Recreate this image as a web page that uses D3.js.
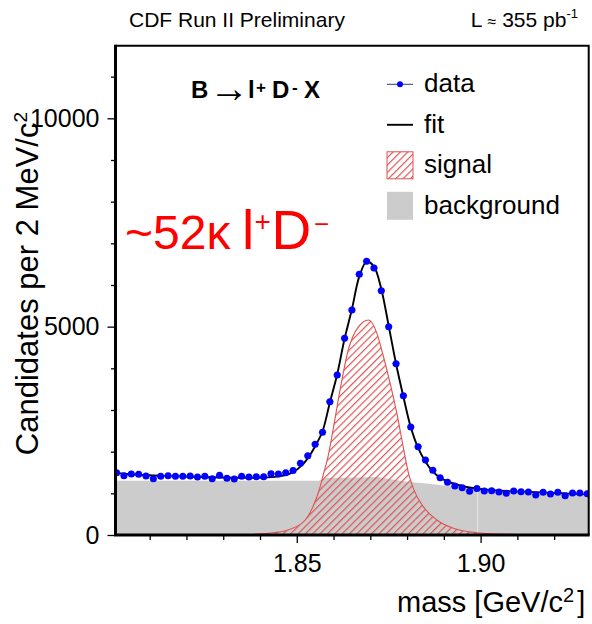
<!DOCTYPE html>
<html>
<head>
<meta charset="utf-8">
<script src="https://cdn.jsdelivr.net/npm/d3@7"></script>
<style>
  html, body { margin: 0; padding: 0; background: #fff; }
  svg { display: block; font-family: "Liberation Sans", Arial, Helvetica, sans-serif; }
</style>
</head>
<body>
<svg id="chart" width="592" height="624"></svg>
<script>
// D candidate mass histogram: 2 MeV/c^2 bins starting at 1.800 GeV/c^2
const binStart = 1.800;
const binWidth = 0.002;
const dataCounts = [
  1495, 1423, 1464, 1457, 1416, 1351, 1409, 1423, 1409, 1409,
  1416, 1392, 1409, 1351, 1433, 1361, 1344, 1409, 1392, 1399,
  1399, 1471, 1464, 1495, 1548, 1721, 1900, 2180, 2465, 3199,
  3840, 4721, 5400, 6257, 6569, 6408, 5863, 4999, 4111, 3343,
  2592, 2119, 1800, 1555, 1372, 1268, 1174, 1136, 1052, 1118,
  1056, 1063, 1032, 1001, 1056, 1039, 1032, 960, 1025, 984,
  1025, 943, 1008, 1008, 991
];
// total fit evaluated at the bin centres
const fitCounts = [
  1490, 1470, 1455, 1445, 1436, 1428, 1421, 1415, 1409, 1403,
  1398, 1393, 1389, 1385, 1381, 1378, 1375, 1373, 1372, 1373,
  1378, 1388, 1408, 1440, 1505, 1640, 1840, 2130, 2490, 3180,
  3860, 4710, 5420, 6200, 6560, 6440, 5900, 5020, 4110, 3320,
  2590, 2090, 1760, 1525, 1370, 1290, 1225, 1175, 1140, 1115,
  1095, 1080, 1066, 1055, 1046, 1040, 1034, 1028, 1020, 1012,
  1005, 998, 990, 983, 976
];
// signal component
const signalMass = [
  1.8300, 1.8360, 1.8422, 1.8476, 1.8523, 1.8544, 1.8561, 1.8573, 1.8585,
  1.8597, 1.8621, 1.8640, 1.8668, 1.8695, 1.8718, 1.8731, 1.8754, 1.8774,
  1.8786, 1.8804, 1.8817, 1.8844, 1.8881, 1.8926, 1.8990, 1.9080, 1.9200
];
const signalCounts = [
  0, 10, 40, 120, 360, 680, 1080, 1480, 1880,
  2440, 3640, 4440, 5000, 5160, 4840, 4440, 3640, 2840,
  2280, 1480, 1120, 680, 360, 160, 55, 15, 0
];
// background component (two pieces joined at 1.8992)
const bkgMass = [
  1.8000, 1.8560, 1.8580, 1.8720, 1.8740, 1.8790, 1.8840, 1.8930,
  1.8992, 1.8992, 1.9150, 1.9300
];
const bkgCounts = [
  1303, 1303, 1370, 1390, 1360, 1290, 1250, 1160,
  1115, 1088, 1000, 945
];
const bkgSeam = 1.8992;

const xMajorTicks = [1.85, 1.90];
const xMinorTicks = [1.81, 1.82, 1.83, 1.84, 1.86, 1.87, 1.88, 1.89, 1.91, 1.92];
const yMajorTicks = [0, 5000, 10000];
const yMinorTicks = [1000, 2000, 3000, 4000, 6000, 7000, 8000, 9000, 11000];
const legendLabels = ["data", "fit", "signal", "background"];

// ---------------------------------------------------------------------------
const svg = d3.select("#chart");
const frame = { left: 115.5, right: 588.7, top: 45.7, bottom: 535 };

const x = d3.scaleLinear().domain([1.8007, 1.9294]).range([frame.left, frame.right]);
const y = d3.scaleLinear().domain([0, 11743]).range([frame.bottom, frame.top]);

const binCentres = dataCounts.map((_, i) => binStart + (i + 0.5) * binWidth);

const RED = "#e05050";
const defs = svg.append("defs");
defs.append("clipPath").attr("id", "plotClip")
  .append("rect")
  .attr("x", frame.left).attr("y", frame.top)
  .attr("width", frame.right - frame.left).attr("height", frame.bottom - frame.top);

const hatchGap = 5.2;
const hatch = defs.append("pattern")
  .attr("id", "hatch")
  .attr("patternUnits", "userSpaceOnUse")
  .attr("width", hatchGap).attr("height", hatchGap)
  .attr("patternTransform", "rotate(45)");
hatch.append("line")
  .attr("x1", 0.6).attr("y1", 0).attr("x2", 0.6).attr("y2", hatchGap)
  .attr("stroke", RED).attr("stroke-width", 1.15);

const plot = svg.append("g").attr("clip-path", "url(#plotClip)");

// background
const bkgPts = bkgMass.map((m, i) => [m, bkgCounts[i]]);
plot.append("path")
  .datum(bkgPts)
  .attr("fill", "#cccccc")
  .attr("d", d3.area().x(d => x(d[0])).y0(y(0)).y1(d => y(d[1])));
const seamTop = d3.min(bkgPts.filter(d => d[0] === bkgSeam), d => d[1]);
plot.append("line")
  .attr("x1", x(bkgSeam)).attr("x2", x(bkgSeam))
  .attr("y1", y(0)).attr("y2", y(seamTop))
  .attr("stroke", "#e6e6e6").attr("stroke-width", 1);

// signal
const sigPts = signalMass.map((m, i) => [m, signalCounts[i]]);
plot.append("path")
  .datum(sigPts)
  .attr("fill", "url(#hatch)")
  .attr("stroke", RED).attr("stroke-width", 1.1)
  .attr("d", d3.area().curve(d3.curveMonotoneX)
    .x(d => x(d[0])).y0(y(0)).y1(d => y(d[1])));

// fit
plot.append("path")
  .datum(binCentres.map((m, i) => [m, fitCounts[i]]))
  .attr("fill", "none")
  .attr("stroke", "#000").attr("stroke-width", 1.9)
  .attr("d", d3.line().curve(d3.curveCatmullRom.alpha(0.5))
    .x(d => x(d[0])).y(d => y(d[1])));

// data points with error bars
const pts = plot.append("g").selectAll("g")
  .data(binCentres.map((m, i) => ({ m, n: dataCounts[i] })))
  .join("g");
pts.append("line")
  .attr("x1", d => x(d.m - binWidth / 2)).attr("x2", d => x(d.m + binWidth / 2))
  .attr("y1", d => y(d.n)).attr("y2", d => y(d.n))
  .attr("stroke", "#4a5fc0").attr("stroke-width", 1);
pts.append("line")
  .attr("x1", d => x(d.m)).attr("x2", d => x(d.m))
  .attr("y1", d => y(d.n - Math.sqrt(d.n))).attr("y2", d => y(d.n + Math.sqrt(d.n)))
  .attr("stroke", "#4a5fc0").attr("stroke-width", 1);
pts.append("circle")
  .attr("cx", d => x(d.m)).attr("cy", d => y(d.n))
  .attr("r", 3.5).attr("fill", "#0000ff");

// axes
const tickStyle = g => {
  g.select(".domain").remove();
  g.selectAll("line").attr("stroke", "#000").attr("stroke-width", 1.3);
  g.selectAll("text").attr("fill", "#000").attr("font-size", 25)
    .attr("font-family", "Liberation Sans, Arial, sans-serif");
};
svg.append("g")
  .attr("transform", `translate(0,${frame.bottom + 1})`)
  .call(d3.axisBottom(x).tickValues(xMinorTicks).tickSize(4).tickFormat(""))
  .call(tickStyle);
svg.append("g")
  .attr("transform", `translate(0,${frame.bottom + 1})`)
  .call(d3.axisBottom(x).tickValues(xMajorTicks).tickSize(7).tickFormat(d3.format(".2f")))
  .call(tickStyle)
  .call(g => g.selectAll("text").attr("y", 36).attr("dy", 0));
svg.append("g")
  .attr("transform", `translate(${frame.left - 1},0)`)
  .call(d3.axisLeft(y).tickValues(yMinorTicks).tickSize(3.5).tickFormat(""))
  .call(tickStyle);
svg.append("g")
  .attr("transform", `translate(${frame.left - 1},0)`)
  .call(d3.axisLeft(y).tickValues(yMajorTicks).tickSize(7).tickFormat(d3.format("d")))
  .call(tickStyle)
  .call(g => g.selectAll("text").attr("x", -15).attr("dy", "0.33em"));

// frame
svg.append("path")
  .attr("d", `M${frame.left},${frame.top}H${frame.right}V${frame.bottom}`)
  .attr("fill", "none").attr("stroke", "#000").attr("stroke-width", 2);
svg.append("path")
  .attr("d", `M${frame.left},${frame.top - 1}V${frame.bottom}H${frame.right + 1}`)
  .attr("fill", "none").attr("stroke", "#000").attr("stroke-width", 3);

// axis titles
const xt = svg.append("text")
  .attr("x", 397).attr("y", 612)
  .attr("font-size", 29).attr("fill", "#000");
xt.append("tspan").text("mass [GeV/c");
xt.append("tspan").attr("font-size", 20).attr("dy", -10).text("2");
xt.append("tspan").attr("dy", 10).attr("dx", 3).text("]");

const yt = svg.append("text")
  .attr("transform", "translate(38,112) rotate(-90)")
  .attr("text-anchor", "end")
  .attr("font-size", 31).attr("fill", "#000");
yt.append("tspan").text("Candidates per 2 MeV/c");
yt.append("tspan").attr("font-size", 19).attr("dy", -11).text("2");

// header
svg.append("text")
  .attr("x", 129).attr("y", 27).attr("font-size", 21).attr("fill", "#000")
  .text("CDF Run II Preliminary");
const lumi = svg.append("text")
  .attr("x", 578).attr("y", 27).attr("text-anchor", "end")
  .attr("font-size", 21).attr("fill", "#000");
lumi.append("tspan").text("L ");
lumi.append("tspan").attr("font-size", 16).text("\u2248");
lumi.append("tspan").text(" 355 pb");
lumi.append("tspan").attr("font-size", 13).attr("dy", -9).text("-1");

// decay label
const decay = svg.append("text")
  .attr("y", 98).attr("font-size", 24).attr("font-weight", "bold").attr("fill", "#000");
decay.append("tspan").attr("x", 191).text("B");
decay.append("tspan").attr("x", 209).attr("font-weight", "normal").attr("font-size", 40).attr("dy", 4).text("\u2192");
decay.append("tspan").attr("x", 248).attr("dy", -4).text("l");
decay.append("tspan").attr("x", 256).attr("font-size", 17).attr("dy", -5).text("+");
decay.append("tspan").attr("x", 272).attr("dy", 5).text("D");
decay.append("tspan").attr("x", 292).attr("font-size", 17).attr("dy", -5).text("-");
decay.append("tspan").attr("x", 304).attr("dy", 5).text("X");

// yield label
const yieldLbl = svg.append("text")
  .attr("y", 249).attr("fill", "#ff0000").attr("font-size", 48);
yieldLbl.append("tspan").attr("x", 125).text("~52\u03ba");
yieldLbl.append("tspan").attr("x", 242).attr("font-size", 55).text("l");
yieldLbl.append("tspan").attr("x", 254.5).attr("font-size", 28).attr("dy", -18).text("+");
yieldLbl.append("tspan").attr("x", 271.5).attr("font-size", 55).attr("dy", 18).text("D");
yieldLbl.append("tspan").attr("x", 314).attr("font-size", 26).attr("dy", -16).text("\u2212");

// legend
const legend = svg.append("g");
const rowY = i => 84.3 + i * 40.5;
const symX0 = 387, symX1 = 413;
legendLabels.forEach((label, i) => {
  const cy = rowY(i);
  if (label === "data") {
    legend.append("line").attr("x1", symX0).attr("x2", symX1).attr("y1", cy).attr("y2", cy)
      .attr("stroke", "#2a3a8c").attr("stroke-width", 1);
    legend.append("circle").attr("cx", (symX0 + symX1) / 2).attr("cy", cy).attr("r", 3)
      .attr("fill", "#0000ff");
  } else if (label === "fit") {
    legend.append("line").attr("x1", symX0).attr("x2", symX1).attr("y1", cy).attr("y2", cy)
      .attr("stroke", "#000").attr("stroke-width", 1.9);
  } else if (label === "signal") {
    legend.append("rect").attr("x", symX0).attr("y", cy - 13.5)
      .attr("width", symX1 - symX0).attr("height", 27)
      .attr("fill", "url(#hatch)").attr("stroke", RED).attr("stroke-width", 1);
  } else {
    legend.append("rect").attr("x", symX0).attr("y", cy - 14)
      .attr("width", symX1 - symX0).attr("height", 28)
      .attr("fill", "#cccccc");
  }
  legend.append("text").attr("x", 424).attr("y", cy + 7.8)
    .attr("font-size", 26).attr("fill", "#000").text(label);
});
</script>
</body>
</html>
